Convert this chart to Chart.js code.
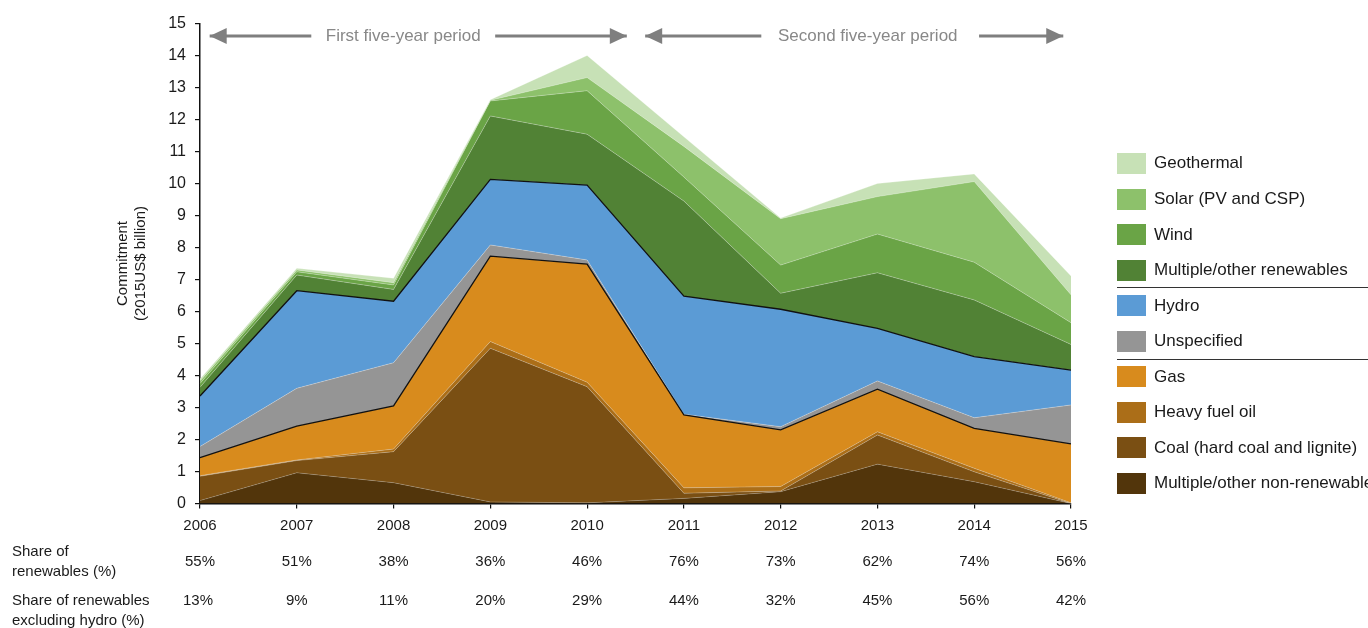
<!DOCTYPE html>
<html>
<head>
<meta charset="utf-8">
<script src="https://cdn.jsdelivr.net/npm/chart.js@4.4.1/dist/chart.umd.min.js"></script>
<style>
  html, body { margin: 0; padding: 0; background: #fff; }
  #wrap { position: relative; width: 1368px; height: 628px; overflow: hidden; font-family: "Liberation Sans", Arial, sans-serif; }
  canvas { position: absolute; left: 0; top: 0; }
  #legend { position: absolute; left: 0; top: 0; width: 1368px; height: 628px; pointer-events: none; }
  .item { position: absolute; left: 1117px; height: 22px; display: flex; align-items: center; }
  .sw { width: 29px; height: 21px; margin-right: 8px; }
  .lbl { font-size: 17px; color: #1a1a1a; white-space: nowrap; }
  .sep { position: absolute; left: 1117px; width: 251px; height: 0; border-top: 1.5px solid #333; }
</style>
</head>
<body>
<div id="wrap">
  <canvas id="c" width="1368" height="628"></canvas>
  <div id="legend"></div>
</div>
<script>
const years = ['2006','2007','2008','2009','2010','2011','2012','2013','2014','2015'];

const multiNonRenew = [0.09, 0.96, 0.65, 0.05, 0.02, 0.16, 0.37, 1.23, 0.68, 0.00];
const coal          = [0.76, 0.38, 0.97, 4.80, 3.63, 0.16, 0.02, 0.91, 0.31, 0.00];
const heavyFuelOil  = [0.02, 0.02, 0.08, 0.21, 0.14, 0.17, 0.14, 0.10, 0.11, 0.02];
const gas           = [0.56, 1.06, 1.35, 2.67, 3.69, 2.28, 1.77, 1.33, 1.25, 1.84];
const unspecified   = [0.35, 1.18, 1.35, 0.35, 0.13, 0.02, 0.10, 0.26, 0.33, 1.22];
const hydro         = [1.58, 3.05, 1.92, 2.05, 2.34, 3.69, 3.67, 1.64, 1.91, 1.09];
const multiRenew    = [0.27, 0.49, 0.37, 1.98, 1.59, 2.97, 0.50, 1.74, 1.77, 0.80];
const wind          = [0.12, 0.10, 0.14, 0.47, 1.36, 0.75, 0.88, 1.21, 1.18, 0.68];
const solar         = [0.08, 0.06, 0.07, 0.02, 0.41, 0.96, 1.45, 1.17, 2.52, 0.87];
const geothermal    = [0.06, 0.05, 0.14, 0.02, 0.69, 0.30, 0.02, 0.41, 0.24, 0.59];

const shareRenew        = [55, 51, 38, 36, 46, 76, 73, 62, 74, 56];
const shareRenewExHydro = [13, 9, 11, 20, 29, 44, 32, 45, 56, 42];

const yTicks = [0,1,2,3,4,5,6,7,8,9,10,11,12,13,14,15];

const FONT = '"Liberation Sans", Arial, sans-serif';

// bottom to top
const seriesDefs = [
  { label: 'Multiple/other non-renewable', data: multiNonRenew, color: '#52350b', line: 'rgba(255,255,255,0.25)', lw: 0.8 },
  { label: 'Coal (hard coal and lignite)', data: coal, color: '#7a4f13', line: 'rgba(255,255,255,0.3)', lw: 0.8 },
  { label: 'Heavy fuel oil', data: heavyFuelOil, color: '#ab6e18', line: 'rgba(255,255,255,0.3)', lw: 0.8 },
  { label: 'Gas', data: gas, color: '#d88b1d', line: '#111', lw: 1.3 },
  { label: 'Unspecified', data: unspecified, color: '#959595', line: 'rgba(255,255,255,0.35)', lw: 0.8 },
  { label: 'Hydro', data: hydro, color: '#5b9bd5', line: '#111', lw: 1.3 },
  { label: 'Multiple/other renewables', data: multiRenew, color: '#518235', line: 'rgba(255,255,255,0.35)', lw: 0.8 },
  { label: 'Wind', data: wind, color: '#6aa446', line: 'rgba(255,255,255,0.35)', lw: 0.8 },
  { label: 'Solar (PV and CSP)', data: solar, color: '#8dc16b', line: 'rgba(255,255,255,0.35)', lw: 0.8 },
  { label: 'Geothermal', data: geothermal, color: '#c7e1b6', line: 'rgba(255,255,255,0.35)', lw: 0.8 }
];

const datasets = seriesDefs.map((s, i) => ({
  label: s.label,
  data: s.data,
  backgroundColor: s.color,
  borderColor: s.line,
  borderWidth: s.lw,
  fill: i === 0 ? 'origin' : '-1',
  pointRadius: 0,
  tension: 0
}));

const annotations = {
  id: 'annotations',
  afterDraw(chart) {
    const ctx = chart.ctx;
    const x = chart.scales.x;
    const px = v => x.getPixelForValue(0) + (x.getPixelForValue(9) - x.getPixelForValue(0)) * v / 9;

    // y title
    ctx.save();
    ctx.fillStyle = '#1a1a1a';
    ctx.font = '15px ' + FONT;
    ctx.textAlign = 'center';
    ctx.textBaseline = 'middle';
    const cy = (chart.chartArea.top + chart.chartArea.bottom) / 2;
    ctx.translate(123, cy);
    ctx.rotate(-Math.PI / 2);
    ctx.fillText('Commitment', 0, 0);
    ctx.fillText('(2015US$ billion)', 0, 18);
    ctx.restore();

    // period arrows
    const ay = 36;
    const drawArrow = (x1, x2, tip) => {
      ctx.save();
      ctx.strokeStyle = '#7f7f7f';
      ctx.fillStyle = '#7f7f7f';
      ctx.lineWidth = 3;
      ctx.beginPath();
      ctx.moveTo(x1, ay); ctx.lineTo(x2, ay); ctx.stroke();
      const dir = tip === 'left' ? -1 : 1;
      const tx = tip === 'left' ? x1 : x2;
      ctx.beginPath();
      ctx.moveTo(tx, ay);
      ctx.lineTo(tx - dir * 17, ay - 8);
      ctx.lineTo(tx - dir * 17, ay + 8);
      ctx.closePath();
      ctx.fill();
      ctx.restore();
    };
    drawArrow(px(0.1), px(1.15), 'left');
    drawArrow(px(3.05), px(4.41), 'right');
    drawArrow(px(4.6), px(5.8), 'left');
    drawArrow(px(8.05), px(8.92), 'right');
    ctx.save();
    ctx.fillStyle = '#888';
    ctx.font = '17px ' + FONT;
    ctx.textAlign = 'center';
    ctx.textBaseline = 'middle';
    ctx.fillText('First five-year period', px(2.1), ay);
    ctx.fillText('Second five-year period', px(6.9), ay);
    ctx.restore();

    // share table
    ctx.save();
    ctx.fillStyle = '#1a1a1a';
    ctx.font = '15px ' + FONT;
    ctx.textBaseline = 'middle';
    ctx.textAlign = 'left';
    ctx.fillText('Share of', 12, 552);
    ctx.fillText('renewables (%)', 12, 572);
    ctx.fillText('Share of renewables', 12, 601);
    ctx.fillText('excluding hydro (%)', 12, 621);
    ctx.textAlign = 'center';
    years.forEach((y, i) => {
      const xx = x.getPixelForValue(i);
      ctx.fillText(shareRenew[i] + '%', xx, 562);
      ctx.fillText(shareRenewExHydro[i] + '%', xx + (i === 0 ? -2 : 0), 601);
    });
    ctx.restore();
  }
};

new Chart(document.getElementById('c'), {
  type: 'line',
  data: { labels: years, datasets },
  options: {
    responsive: false,
    animation: false,
    layout: { padding: { top: 23.5, right: 297, bottom: 0, left: 0 } },
    plugins: {
      legend: { display: false },
      tooltip: { enabled: false },
      filler: { drawTime: 'beforeDatasetsDraw' }
    },
    scales: {
      x: {
        type: 'category',
        offset: false,
        grid: { display: true, drawOnChartArea: false, drawTicks: true, tickLength: 5, color: '#111', lineWidth: 1.2 },
        border: { display: true, color: '#111', width: 1.5 },
        ticks: { color: '#1a1a1a', font: { family: FONT, size: 15 }, padding: 8, maxRotation: 0 },
        afterFit(scale) { scale.height = 124.5; }
      },
      y: {
        stacked: true,
        min: 0,
        max: 15,
        afterBuildTicks(scale) { scale.ticks = yTicks.map(v => ({ value: v })); },
        grid: { display: true, drawOnChartArea: false, drawTicks: true, tickLength: 5, color: '#111', lineWidth: 1.2 },
        border: { display: true, color: '#111', width: 1.5 },
        ticks: { color: '#1a1a1a', font: { family: FONT, size: 16 }, padding: 9 },
        afterFit(scale) { scale.width = 200; }
      }
    }
  },
  plugins: [annotations]
});

// HTML legend (top to bottom)
const legend = document.getElementById('legend');
const centers = [163, 199, 234.5, 270, 305.5, 341, 376.5, 412, 447.5, 483];
seriesDefs.slice().reverse().forEach((s, i) => {
  const d = document.createElement('div');
  d.className = 'item';
  d.style.top = (centers[i] - 11) + 'px';
  d.innerHTML = '<div class="sw" style="background:' + s.color + '"></div><div class="lbl"></div>';
  d.querySelector('.lbl').textContent = s.label;
  legend.appendChild(d);
});
[287, 359].forEach(y => {
  const s = document.createElement('div');
  s.className = 'sep';
  s.style.top = y + 'px';
  legend.appendChild(s);
});
</script>
</body>
</html>
